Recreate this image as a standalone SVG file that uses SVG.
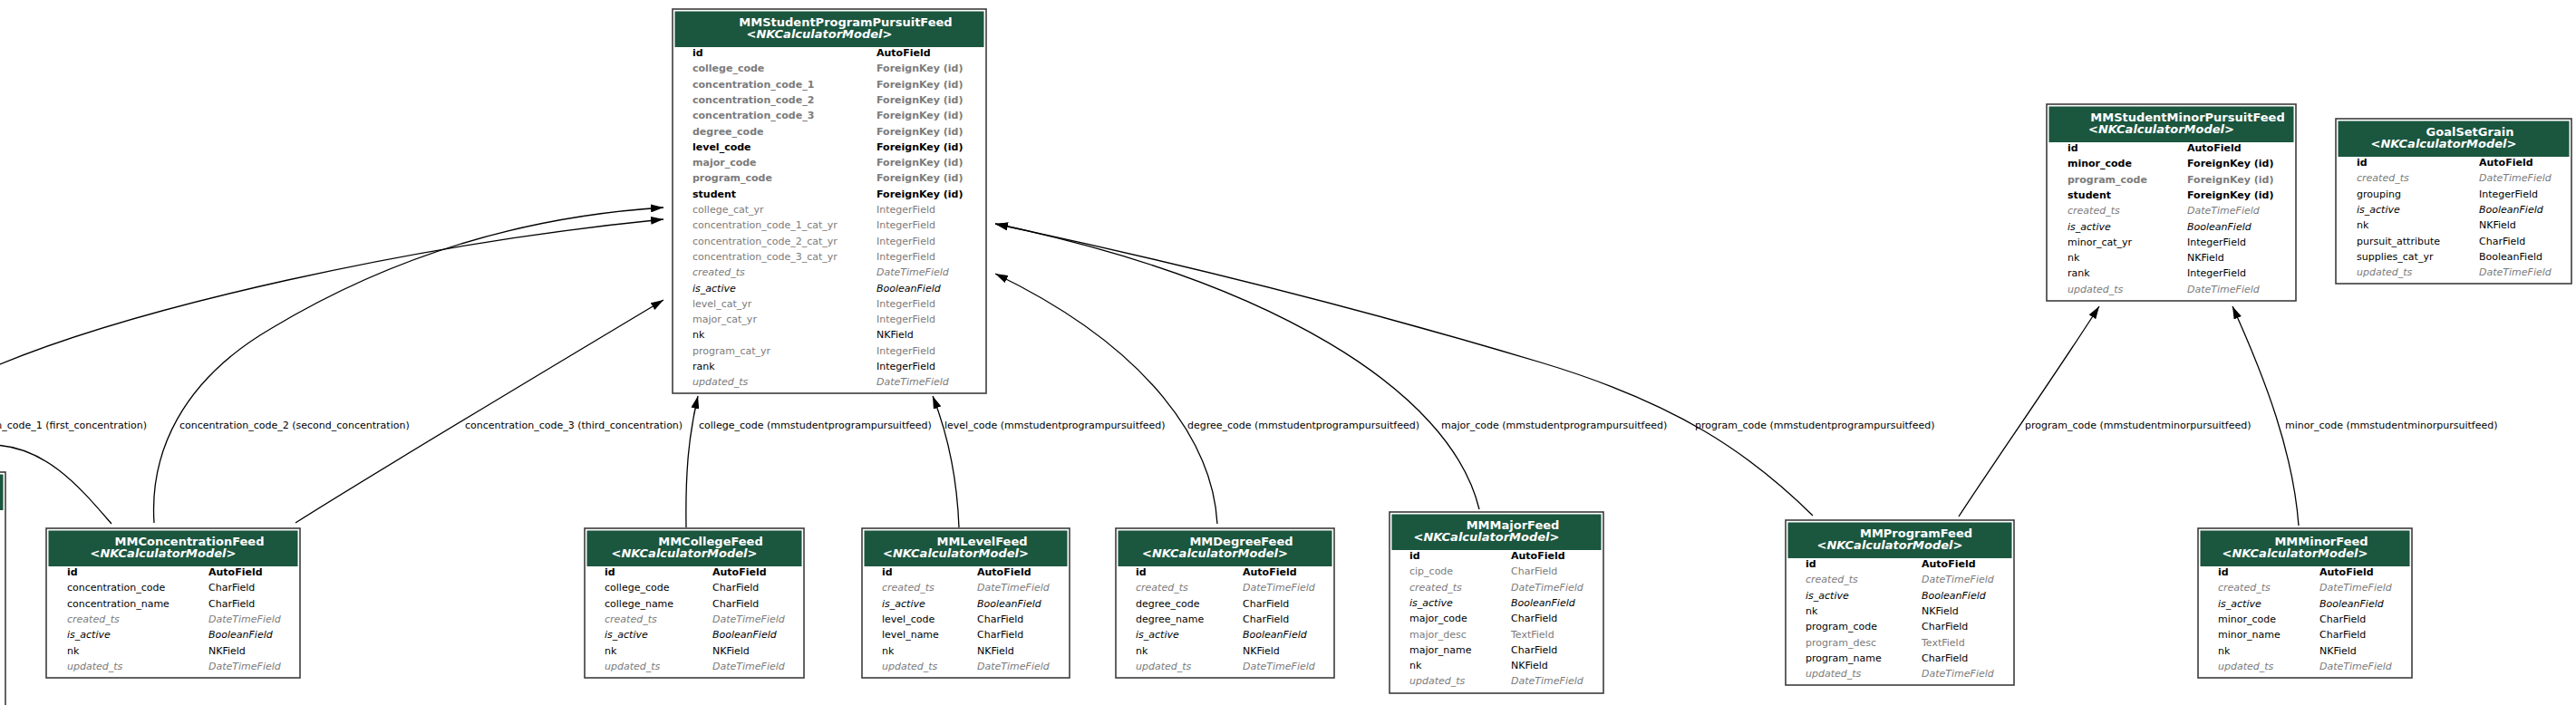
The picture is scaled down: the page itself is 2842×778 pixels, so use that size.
<svg xmlns="http://www.w3.org/2000/svg" width="2842" height="778" viewBox="0 0 2842 778">
<defs>
<style>
.box{fill:#fff;stroke:#3c3c3c;stroke-width:1.6}
.hdr{fill:#1b563f}
.t{font-family:"DejaVu Sans",sans-serif;font-size:13px;font-weight:bold;fill:#fff;text-anchor:middle}
.f{font-family:"DejaVu Sans",sans-serif;font-size:11px;fill:#000}
.b{font-weight:bold}
.g{fill:#7b7b7b}
.i{font-style:italic}
.lbl{font-family:"DejaVu Sans",sans-serif;font-size:11px;fill:#000}
.e{fill:none;stroke:#000;stroke-width:1.3;marker-end:url(#ah)}
</style>
<marker id="ah" markerUnits="userSpaceOnUse" viewBox="0 0 14 9" markerWidth="14" markerHeight="9" refX="14" refY="4.5" orient="auto"><path d="M0,0 L14,4.5 L0,9 z" fill="#000"/></marker>
</defs>
<rect width="2842" height="778" fill="#fff"/>

<g id="edges">
<path class="e" d="M123,578 C90,540 50,491 -10,491 C-120,491 -120,402 0,402 C150,340 450,270 732,242"/>
<path class="e" d="M170,577 C165,500 200,420 300,362 C420,290 560,240 732,229"/>
<path class="e" d="M326,577 C400,530 600,410 732,331"/>
<path class="e" d="M757,582 C756,520 760,480 770,437"/>
<path class="e" d="M1058,582 C1056,530 1046,480 1029,437"/>
<path class="e" d="M1343,578 C1338,490 1270,385 1098,302"/>
<path class="e" d="M1632,562 C1600,430 1400,310 1098,247"/>
<path class="e" d="M2000,569 C1930,500 1850,445 1700,400 C1500,340 1300,290 1098,247"/>
<path class="e" d="M2161,570 C2200,510 2260,425 2316,338"/>
<path class="e" d="M2536,580 C2530,500 2500,420 2463,338"/>
<text class="lbl" x="162" y="473" text-anchor="end">concentration_code_1 (first_concentration)</text>
<text class="lbl" x="198" y="473">concentration_code_2 (second_concentration)</text>
<text class="lbl" x="513" y="473">concentration_code_3 (third_concentration)</text>
<text class="lbl" x="771" y="473">college_code (mmstudentprogrampursuitfeed)</text>
<text class="lbl" x="1042" y="473">level_code (mmstudentprogrampursuitfeed)</text>
<text class="lbl" x="1310" y="473">degree_code (mmstudentprogrampursuitfeed)</text>
<text class="lbl" x="1590" y="473">major_code (mmstudentprogrampursuitfeed)</text>
<text class="lbl" x="1870" y="473">program_code (mmstudentprogrampursuitfeed)</text>
<text class="lbl" x="2234" y="473">program_code (mmstudentminorpursuitfeed)</text>
<text class="lbl" x="2521" y="473">minor_code (mmstudentminorpursuitfeed)</text>
</g>

<g id="partial-node">
<rect class="box" x="-300" y="521" width="306" height="400"/>
<rect class="hdr" x="-298" y="523.5" width="301.5" height="39.5"/>
</g>

<g id="MMStudentProgramPursuitFeed" transform="translate(742,10)">
<rect class="box" width="346" height="424"/>
<rect class="hdr" x="2.5" y="2.5" width="341" height="39.5"/>
<text class="t" x="191" y="19">MMStudentProgramPursuitFeed</text>
<text class="t" x="162" y="32">&lt;<tspan font-style="italic">NKCalculatorModel</tspan>&gt;</text>
<text class="f b" x="22" y="52">id</text><text class="f b" x="225" y="52">AutoField</text>
<text class="f b g" x="22" y="69.3">college_code</text><text class="f b g" x="225" y="69.3">ForeignKey (id)</text>
<text class="f b g" x="22" y="86.6">concentration_code_1</text><text class="f b g" x="225" y="86.6">ForeignKey (id)</text>
<text class="f b g" x="22" y="103.9">concentration_code_2</text><text class="f b g" x="225" y="103.9">ForeignKey (id)</text>
<text class="f b g" x="22" y="121.2">concentration_code_3</text><text class="f b g" x="225" y="121.2">ForeignKey (id)</text>
<text class="f b g" x="22" y="138.5">degree_code</text><text class="f b g" x="225" y="138.5">ForeignKey (id)</text>
<text class="f b" x="22" y="155.8">level_code</text><text class="f b" x="225" y="155.8">ForeignKey (id)</text>
<text class="f b g" x="22" y="173.1">major_code</text><text class="f b g" x="225" y="173.1">ForeignKey (id)</text>
<text class="f b g" x="22" y="190.4">program_code</text><text class="f b g" x="225" y="190.4">ForeignKey (id)</text>
<text class="f b" x="22" y="207.7">student</text><text class="f b" x="225" y="207.7">ForeignKey (id)</text>
<text class="f g" x="22" y="225">college_cat_yr</text><text class="f g" x="225" y="225">IntegerField</text>
<text class="f g" x="22" y="242.3">concentration_code_1_cat_yr</text><text class="f g" x="225" y="242.3">IntegerField</text>
<text class="f g" x="22" y="259.6">concentration_code_2_cat_yr</text><text class="f g" x="225" y="259.6">IntegerField</text>
<text class="f g" x="22" y="276.9">concentration_code_3_cat_yr</text><text class="f g" x="225" y="276.9">IntegerField</text>
<text class="f g i" x="22" y="294.2">created_ts</text><text class="f g i" x="225" y="294.2">DateTimeField</text>
<text class="f i" x="22" y="311.5">is_active</text><text class="f i" x="225" y="311.5">BooleanField</text>
<text class="f g" x="22" y="328.8">level_cat_yr</text><text class="f g" x="225" y="328.8">IntegerField</text>
<text class="f g" x="22" y="346.1">major_cat_yr</text><text class="f g" x="225" y="346.1">IntegerField</text>
<text class="f" x="22" y="363.4">nk</text><text class="f" x="225" y="363.4">NKField</text>
<text class="f g" x="22" y="380.7">program_cat_yr</text><text class="f g" x="225" y="380.7">IntegerField</text>
<text class="f" x="22" y="398">rank</text><text class="f" x="225" y="398">IntegerField</text>
<text class="f g i" x="22" y="415.3">updated_ts</text><text class="f g i" x="225" y="415.3">DateTimeField</text>
</g>

<g id="MMConcentrationFeed" transform="translate(51,583)">
<rect class="box" width="280" height="165"/>
<rect class="hdr" x="2.5" y="2.5" width="275" height="39.5"/>
<text class="t" x="158" y="19">MMConcentrationFeed</text>
<text class="t" x="129" y="32">&lt;<tspan font-style="italic">NKCalculatorModel</tspan>&gt;</text>
<text class="f b" x="23" y="52">id</text><text class="f b" x="179" y="52">AutoField</text>
<text class="f" x="23" y="69.3">concentration_code</text><text class="f" x="179" y="69.3">CharField</text>
<text class="f" x="23" y="86.6">concentration_name</text><text class="f" x="179" y="86.6">CharField</text>
<text class="f g i" x="23" y="103.9">created_ts</text><text class="f g i" x="179" y="103.9">DateTimeField</text>
<text class="f i" x="23" y="121.2">is_active</text><text class="f i" x="179" y="121.2">BooleanField</text>
<text class="f" x="23" y="138.5">nk</text><text class="f" x="179" y="138.5">NKField</text>
<text class="f g i" x="23" y="155.8">updated_ts</text><text class="f g i" x="179" y="155.8">DateTimeField</text>
</g>

<g id="MMCollegeFeed" transform="translate(645,583)">
<rect class="box" width="242" height="165"/>
<rect class="hdr" x="2.5" y="2.5" width="237" height="39.5"/>
<text class="t" x="139" y="19">MMCollegeFeed</text>
<text class="t" x="110" y="32">&lt;<tspan font-style="italic">NKCalculatorModel</tspan>&gt;</text>
<text class="f b" x="22" y="52">id</text><text class="f b" x="141" y="52">AutoField</text>
<text class="f" x="22" y="69.3">college_code</text><text class="f" x="141" y="69.3">CharField</text>
<text class="f" x="22" y="86.6">college_name</text><text class="f" x="141" y="86.6">CharField</text>
<text class="f g i" x="22" y="103.9">created_ts</text><text class="f g i" x="141" y="103.9">DateTimeField</text>
<text class="f i" x="22" y="121.2">is_active</text><text class="f i" x="141" y="121.2">BooleanField</text>
<text class="f" x="22" y="138.5">nk</text><text class="f" x="141" y="138.5">NKField</text>
<text class="f g i" x="22" y="155.8">updated_ts</text><text class="f g i" x="141" y="155.8">DateTimeField</text>
</g>

<g id="MMLevelFeed" transform="translate(951,583)">
<rect class="box" width="229" height="165"/>
<rect class="hdr" x="2.5" y="2.5" width="224" height="39.5"/>
<text class="t" x="132.5" y="19">MMLevelFeed</text>
<text class="t" x="103.5" y="32">&lt;<tspan font-style="italic">NKCalculatorModel</tspan>&gt;</text>
<text class="f b" x="22" y="52">id</text><text class="f b" x="127" y="52">AutoField</text>
<text class="f g i" x="22" y="69.3">created_ts</text><text class="f g i" x="127" y="69.3">DateTimeField</text>
<text class="f i" x="22" y="86.6">is_active</text><text class="f i" x="127" y="86.6">BooleanField</text>
<text class="f" x="22" y="103.9">level_code</text><text class="f" x="127" y="103.9">CharField</text>
<text class="f" x="22" y="121.2">level_name</text><text class="f" x="127" y="121.2">CharField</text>
<text class="f" x="22" y="138.5">nk</text><text class="f" x="127" y="138.5">NKField</text>
<text class="f g i" x="22" y="155.8">updated_ts</text><text class="f g i" x="127" y="155.8">DateTimeField</text>
</g>

<g id="MMDegreeFeed" transform="translate(1231,583)">
<rect class="box" width="241" height="165"/>
<rect class="hdr" x="2.5" y="2.5" width="236" height="39.5"/>
<text class="t" x="138.5" y="19">MMDegreeFeed</text>
<text class="t" x="109.5" y="32">&lt;<tspan font-style="italic">NKCalculatorModel</tspan>&gt;</text>
<text class="f b" x="22" y="52">id</text><text class="f b" x="140" y="52">AutoField</text>
<text class="f g i" x="22" y="69.3">created_ts</text><text class="f g i" x="140" y="69.3">DateTimeField</text>
<text class="f" x="22" y="86.6">degree_code</text><text class="f" x="140" y="86.6">CharField</text>
<text class="f" x="22" y="103.9">degree_name</text><text class="f" x="140" y="103.9">CharField</text>
<text class="f i" x="22" y="121.2">is_active</text><text class="f i" x="140" y="121.2">BooleanField</text>
<text class="f" x="22" y="138.5">nk</text><text class="f" x="140" y="138.5">NKField</text>
<text class="f g i" x="22" y="155.8">updated_ts</text><text class="f g i" x="140" y="155.8">DateTimeField</text>
</g>

<g id="MMMajorFeed" transform="translate(1533,565)">
<rect class="box" width="236" height="200"/>
<rect class="hdr" x="2.5" y="2.5" width="231" height="39.5"/>
<text class="t" x="136" y="19">MMMajorFeed</text>
<text class="t" x="107" y="32">&lt;<tspan font-style="italic">NKCalculatorModel</tspan>&gt;</text>
<text class="f b" x="22" y="52">id</text><text class="f b" x="134" y="52">AutoField</text>
<text class="f g" x="22" y="69.3">cip_code</text><text class="f g" x="134" y="69.3">CharField</text>
<text class="f g i" x="22" y="86.6">created_ts</text><text class="f g i" x="134" y="86.6">DateTimeField</text>
<text class="f i" x="22" y="103.9">is_active</text><text class="f i" x="134" y="103.9">BooleanField</text>
<text class="f" x="22" y="121.2">major_code</text><text class="f" x="134" y="121.2">CharField</text>
<text class="f g" x="22" y="138.5">major_desc</text><text class="f g" x="134" y="138.5">TextField</text>
<text class="f" x="22" y="155.8">major_name</text><text class="f" x="134" y="155.8">CharField</text>
<text class="f" x="22" y="173.1">nk</text><text class="f" x="134" y="173.1">NKField</text>
<text class="f g i" x="22" y="190.4">updated_ts</text><text class="f g i" x="134" y="190.4">DateTimeField</text>
</g>

<g id="MMProgramFeed" transform="translate(1970,574)">
<rect class="box" width="252" height="182"/>
<rect class="hdr" x="2.5" y="2.5" width="247" height="39.5"/>
<text class="t" x="144" y="19">MMProgramFeed</text>
<text class="t" x="115" y="32">&lt;<tspan font-style="italic">NKCalculatorModel</tspan>&gt;</text>
<text class="f b" x="22" y="52">id</text><text class="f b" x="150" y="52">AutoField</text>
<text class="f g i" x="22" y="69.3">created_ts</text><text class="f g i" x="150" y="69.3">DateTimeField</text>
<text class="f i" x="22" y="86.6">is_active</text><text class="f i" x="150" y="86.6">BooleanField</text>
<text class="f" x="22" y="103.9">nk</text><text class="f" x="150" y="103.9">NKField</text>
<text class="f" x="22" y="121.2">program_code</text><text class="f" x="150" y="121.2">CharField</text>
<text class="f g" x="22" y="138.5">program_desc</text><text class="f g" x="150" y="138.5">TextField</text>
<text class="f" x="22" y="155.8">program_name</text><text class="f" x="150" y="155.8">CharField</text>
<text class="f g i" x="22" y="173.1">updated_ts</text><text class="f g i" x="150" y="173.1">DateTimeField</text>
</g>

<g id="MMMinorFeed" transform="translate(2425,583)">
<rect class="box" width="236" height="165"/>
<rect class="hdr" x="2.5" y="2.5" width="231" height="39.5"/>
<text class="t" x="136" y="19">MMMinorFeed</text>
<text class="t" x="107" y="32">&lt;<tspan font-style="italic">NKCalculatorModel</tspan>&gt;</text>
<text class="f b" x="22" y="52">id</text><text class="f b" x="134" y="52">AutoField</text>
<text class="f g i" x="22" y="69.3">created_ts</text><text class="f g i" x="134" y="69.3">DateTimeField</text>
<text class="f i" x="22" y="86.6">is_active</text><text class="f i" x="134" y="86.6">BooleanField</text>
<text class="f" x="22" y="103.9">minor_code</text><text class="f" x="134" y="103.9">CharField</text>
<text class="f" x="22" y="121.2">minor_name</text><text class="f" x="134" y="121.2">CharField</text>
<text class="f" x="22" y="138.5">nk</text><text class="f" x="134" y="138.5">NKField</text>
<text class="f g i" x="22" y="155.8">updated_ts</text><text class="f g i" x="134" y="155.8">DateTimeField</text>
</g>

<g id="MMStudentMinorPursuitFeed" transform="translate(2258,115)">
<rect class="box" width="275" height="217"/>
<rect class="hdr" x="2.5" y="2.5" width="270" height="39.5"/>
<text class="t" x="155.5" y="19">MMStudentMinorPursuitFeed</text>
<text class="t" x="126.5" y="32">&lt;<tspan font-style="italic">NKCalculatorModel</tspan>&gt;</text>
<text class="f b" x="23" y="52">id</text><text class="f b" x="155" y="52">AutoField</text>
<text class="f b" x="23" y="69.3">minor_code</text><text class="f b" x="155" y="69.3">ForeignKey (id)</text>
<text class="f b g" x="23" y="86.6">program_code</text><text class="f b g" x="155" y="86.6">ForeignKey (id)</text>
<text class="f b" x="23" y="103.9">student</text><text class="f b" x="155" y="103.9">ForeignKey (id)</text>
<text class="f g i" x="23" y="121.2">created_ts</text><text class="f g i" x="155" y="121.2">DateTimeField</text>
<text class="f i" x="23" y="138.5">is_active</text><text class="f i" x="155" y="138.5">BooleanField</text>
<text class="f" x="23" y="155.8">minor_cat_yr</text><text class="f" x="155" y="155.8">IntegerField</text>
<text class="f" x="23" y="173.1">nk</text><text class="f" x="155" y="173.1">NKField</text>
<text class="f" x="23" y="190.4">rank</text><text class="f" x="155" y="190.4">IntegerField</text>
<text class="f g i" x="23" y="207.7">updated_ts</text><text class="f g i" x="155" y="207.7">DateTimeField</text>
</g>

<g id="GoalSetGrain" transform="translate(2577,131)">
<rect class="box" width="260" height="182"/>
<rect class="hdr" x="2.5" y="2.5" width="255" height="39.5"/>
<text class="t" x="148" y="19">GoalSetGrain</text>
<text class="t" x="119" y="32">&lt;<tspan font-style="italic">NKCalculatorModel</tspan>&gt;</text>
<text class="f b" x="23" y="52">id</text><text class="f b" x="158" y="52">AutoField</text>
<text class="f g i" x="23" y="69.3">created_ts</text><text class="f g i" x="158" y="69.3">DateTimeField</text>
<text class="f" x="23" y="86.6">grouping</text><text class="f" x="158" y="86.6">IntegerField</text>
<text class="f i" x="23" y="103.9">is_active</text><text class="f i" x="158" y="103.9">BooleanField</text>
<text class="f" x="23" y="121.2">nk</text><text class="f" x="158" y="121.2">NKField</text>
<text class="f" x="23" y="138.5">pursuit_attribute</text><text class="f" x="158" y="138.5">CharField</text>
<text class="f" x="23" y="155.8">supplies_cat_yr</text><text class="f" x="158" y="155.8">BooleanField</text>
<text class="f g i" x="23" y="173.1">updated_ts</text><text class="f g i" x="158" y="173.1">DateTimeField</text>
</g>
</svg>
